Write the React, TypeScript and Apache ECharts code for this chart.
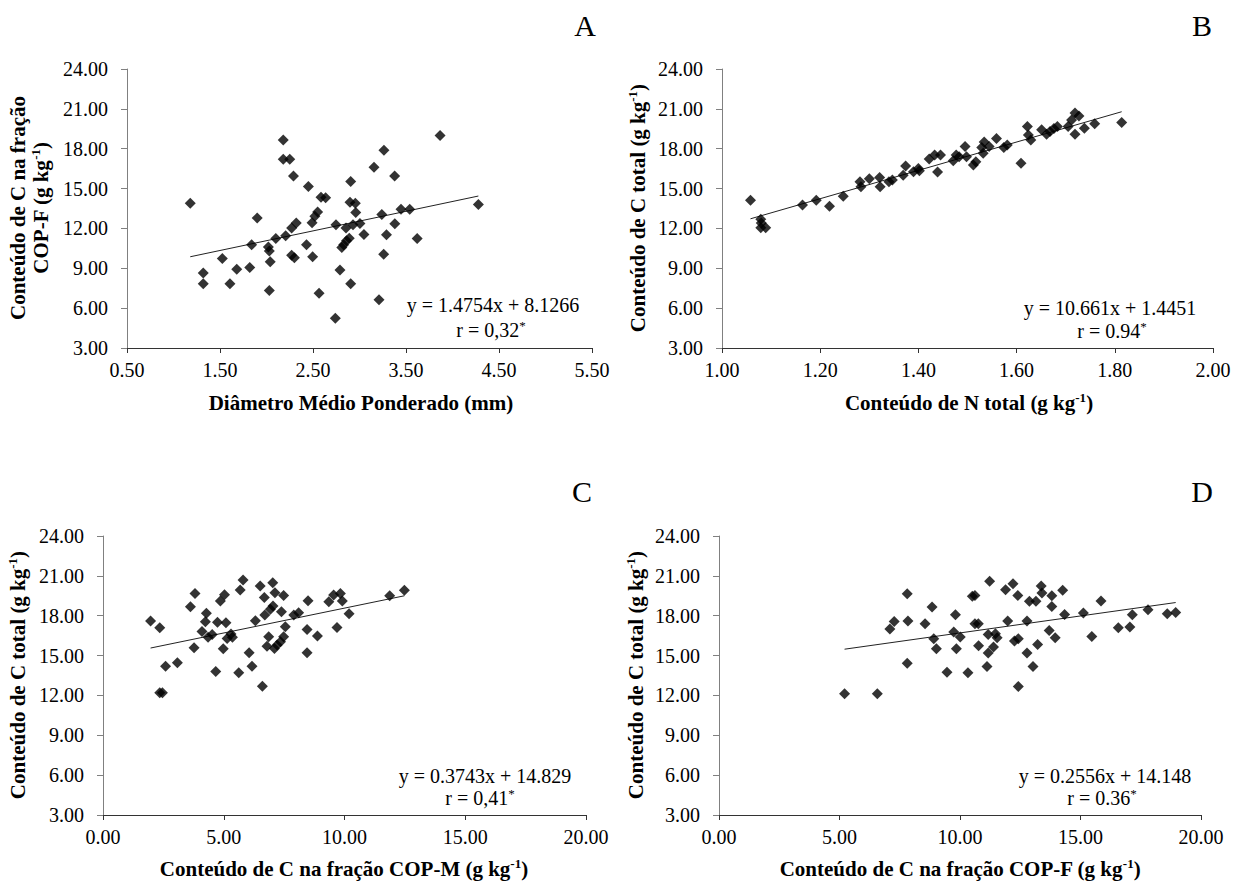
import React, { useEffect, useRef } from 'react';
import * as echarts from 'echarts';

// ---------- Panel A : Diâmetro Médio Ponderado vs C na fração COP-F ----------
const A_X = [1.18, 1.32, 1.32, 1.525, 1.607, 1.68, 1.82, 1.84, 1.9, 2.02, 2.03, 2.04, 2.03, 2.1, 2.18, 2.18, 2.25, 2.206, 2.27, 2.27, 2.3, 2.29, 2.32, 2.45, 2.43, 2.496, 2.49, 2.52, 2.55, 2.565, 2.586, 2.636, 2.747, 2.74, 2.79, 2.81, 2.83, 2.86, 2.89, 2.855, 2.905, 2.898, 2.955, 2.96, 2.93, 3.005, 2.905, 3.048, 3.156, 3.263, 3.24, 3.29, 3.26, 3.21, 3.378, 3.38, 3.446, 3.54, 3.62, 3.866, 4.278];
const A_Y = [13.9, 8.65, 7.84, 9.73, 7.84, 8.92, 9.05, 10.77, 12.79, 10.6, 10.3, 9.5, 7.33, 11.25, 18.65, 17.2, 17.2, 11.45, 12.03, 9.98, 9.8, 15.94, 12.41, 15.16, 10.77, 9.86, 12.43, 12.91, 13.24, 7.13, 14.35, 14.3, 12.28, 5.24, 8.87, 10.57, 10.77, 11.07, 11.27, 12.03, 15.54, 13.97, 13.9, 13.19, 12.28, 12.38, 7.84, 11.55, 16.6, 17.89, 13.04, 11.53, 10.06, 6.63, 15.94, 12.36, 13.44, 13.44, 11.25, 19.0, 13.8];

// ---------- Panel B : N total vs C total ----------
const B_X = [1.058, 1.079, 1.079, 1.089, 1.08, 1.164, 1.192, 1.219, 1.247, 1.281, 1.283, 1.3, 1.321, 1.322, 1.34, 1.347, 1.369, 1.374, 1.39, 1.4, 1.402, 1.422, 1.433, 1.445, 1.439, 1.471, 1.477, 1.483, 1.495, 1.498, 1.512, 1.517, 1.529, 1.534, 1.532, 1.544, 1.559, 1.574, 1.581, 1.609, 1.622, 1.624, 1.629, 1.651, 1.661, 1.668, 1.676, 1.683, 1.705, 1.712, 1.719, 1.727, 1.719, 1.738, 1.759, 1.814];
const B_Y = [14.13, 12.69, 12.06, 12.06, 12.41, 13.77, 14.13, 13.67, 14.43, 15.51, 15.13, 15.74, 15.84, 15.13, 15.51, 15.64, 16.0, 16.7, 16.27, 16.52, 16.34, 17.22, 17.53, 17.53, 16.24, 17.1, 17.53, 17.4, 18.16, 17.4, 16.77, 17.02, 18.1, 18.5, 17.65, 18.16, 18.76, 18.1, 18.28, 16.9, 19.67, 19.04, 18.66, 19.42, 19.09, 19.29, 19.52, 19.67, 19.67, 20.17, 20.68, 20.47, 19.09, 19.54, 19.87, 19.97];

// ---------- Panel C : C na fração COP-M vs C total ----------
const C_X = [1.97, 2.35, 2.59, 2.35, 2.46, 3.08, 3.62, 3.81, 3.77, 4.1, 4.28, 4.24, 4.35, 4.52, 4.67, 4.74, 4.86, 5.03, 4.98, 5.09, 5.14, 5.3, 5.36, 5.62, 5.68, 5.8, 6.05, 6.17, 6.31, 6.51, 6.6, 6.68, 6.7, 6.86, 6.79, 6.93, 7.03, 7.04, 7.12, 7.1, 7.21, 7.35, 7.48, 7.39, 7.48, 7.55, 7.9, 8.1, 8.45, 8.45, 8.49, 8.88, 9.35, 9.55, 9.83, 9.69, 9.91, 10.19, 11.87, 12.48];
const C_Y = [17.6, 17.1, 14.2, 12.2, 12.2, 14.46, 18.68, 19.68, 15.59, 16.82, 18.18, 17.55, 16.37, 16.59, 13.8, 17.5, 19.1, 19.58, 15.51, 17.47, 16.29, 16.62, 16.37, 13.7, 19.93, 20.69, 15.21, 14.2, 17.62, 20.24, 12.7, 19.38, 18.05, 16.42, 15.71, 18.48, 20.49, 18.73, 19.73, 15.54, 15.79, 16.04, 16.42, 18.3, 19.53, 17.17, 18.05, 18.23, 15.21, 16.97, 19.13, 16.47, 19.05, 19.56, 19.68, 17.12, 19.1, 18.15, 19.51, 19.91];

// ---------- Panel D : C na fração COP-F vs C total ----------
const D_X = [5.21, 6.57, 7.09, 7.27, 7.81, 7.84, 7.81, 8.55, 8.84, 8.91, 9.02, 9.46, 9.74, 9.81, 9.85, 10.01, 10.33, 10.51, 10.62, 10.62, 10.76, 10.77, 11.12, 11.17, 11.23, 11.17, 11.39, 11.47, 11.54, 11.89, 11.98, 12.2, 12.26, 12.4, 12.42, 12.42, 12.78, 12.78, 12.88, 13.03, 13.15, 13.22, 13.37, 13.4, 13.7, 13.81, 13.81, 13.95, 14.26, 14.34, 15.12, 15.47, 15.85, 16.57, 17.05, 17.15, 17.8, 18.6, 18.95];
const D_Y = [12.12, 12.12, 17.0, 17.57, 19.66, 17.6, 14.43, 17.4, 18.65, 16.27, 15.51, 13.75, 16.77, 18.08, 15.51, 16.39, 13.7, 19.46, 19.53, 17.4, 17.4, 15.74, 14.18, 15.19, 20.59, 16.59, 15.64, 16.64, 16.34, 19.96, 17.6, 20.41, 16.09, 19.53, 16.27, 12.67, 17.6, 15.19, 19.08, 14.18, 19.08, 15.84, 20.24, 19.71, 16.89, 19.51, 18.7, 16.34, 19.91, 18.1, 18.2, 16.44, 19.1, 17.1, 17.15, 18.08, 18.45, 18.15, 18.25];

// ---------- Tick labels ----------
const A_X_TICKS = [0.5, 1.5, 2.5, 3.5, 4.5, 5.5];
const B_X_TICKS = [1.0, 1.2, 1.4, 1.6, 1.8, 2.0];
const CD_X_TICKS = [0, 5, 10, 15, 20];
const Y_TICKS = [3, 6, 9, 12, 15, 18, 21, 24];

// ---------- Regression fits ----------
const A_FIT = { slope: 1.4754, intercept: 8.1266, eq: 'y = 1.4754x + 8.1266', r: '0,32' };
const B_FIT = { slope: 10.661, intercept: 1.4451, eq: 'y = 10.661x + 1.4451', r: '0.94' };
const C_FIT = { slope: 0.3743, intercept: 14.829, eq: 'y = 0.3743x + 14.829', r: '0,41' };
const D_FIT = { slope: 0.2556, intercept: 14.148, eq: 'y = 0.2556x + 14.148', r: '0.36' };

const FONT = 'Liberation Serif';

const zip = (xs: number[], ys: number[]) => xs.map((x, i) => [x, ys[i]]);
const fitLine = (xs: number[], f: { slope: number; intercept: number }) => {
  const lo = Math.min(...xs);
  const hi = Math.max(...xs);
  return [
    [lo, f.slope * lo + f.intercept],
    [hi, f.slope * hi + f.intercept],
  ];
};

const panels = [
  { id: 'A', xs: A_X, ys: A_Y, fit: A_FIT, ticks: A_X_TICKS, min: 0.5, max: 5.5, grid: { left: 127, top: 69, width: 465, height: 279 } },
  { id: 'B', xs: B_X, ys: B_Y, fit: B_FIT, ticks: B_X_TICKS, min: 1.0, max: 2.0, grid: { left: 722, top: 69, width: 491, height: 279 } },
  { id: 'C', xs: C_X, ys: C_Y, fit: C_FIT, ticks: CD_X_TICKS, min: 0, max: 20, grid: { left: 103, top: 536, width: 483, height: 279 } },
  { id: 'D', xs: D_X, ys: D_Y, fit: D_FIT, ticks: CD_X_TICKS, min: 0, max: 20, grid: { left: 719, top: 536, width: 482, height: 279 } },
];

const boldRich = {
  sup: { fontSize: 13, fontWeight: 'bold', fontFamily: FONT, fill: '#000', verticalAlign: 'top', lineHeight: 12 },
};
const plainRich = {
  sup: { fontSize: 13, fontFamily: FONT, fill: '#000', verticalAlign: 'top', lineHeight: 10 },
};

function titleText(text: string, x: number, y: number, rotate: boolean, lineHeight = 24) {
  return {
    type: 'text',
    x,
    y,
    rotation: rotate ? Math.PI / 2 : 0,
    style: {
      text,
      fontFamily: FONT,
      fontSize: 21,
      fontWeight: 'bold',
      fill: '#000',
      align: 'center',
      verticalAlign: 'middle',
      lineHeight,
      rich: boldRich,
    },
  };
}

function plainText(text: string, x: number, y: number, size = 20) {
  return {
    type: 'text',
    x,
    y,
    style: {
      text,
      fontFamily: FONT,
      fontSize: size,
      fill: '#000',
      align: 'center',
      verticalAlign: 'middle',
      lineHeight: 22,
      rich: plainRich,
    },
  };
}

export default function App() {
  const ref = useRef<HTMLDivElement>(null);

  useEffect(() => {
    if (!ref.current) return;
    const chart = echarts.init(ref.current, undefined, { renderer: 'svg' });

    const labelStyle = { fontFamily: FONT, fontSize: 20, color: '#000' };

    const option: any = {
      animation: false,
      backgroundColor: '#fff',
      grid: panels.map((p) => ({ ...p.grid, containLabel: false })),
      xAxis: panels.map((p, i) => ({
        type: 'value',
        gridIndex: i,
        min: p.min,
        max: p.max,
        splitLine: { show: false },
        axisLine: { show: true, onZero: false, lineStyle: { color: '#333', width: 1 } },
        axisTick: { show: true, inside: false, length: 5, customValues: p.ticks, lineStyle: { color: '#333' } },
        axisLabel: { ...labelStyle, margin: 12, customValues: p.ticks, formatter: (v: number) => v.toFixed(2) },
      })),
      yAxis: panels.map((p, i) => ({
        type: 'value',
        gridIndex: i,
        min: 3,
        max: 24,
        interval: 3,
        splitLine: { show: false },
        axisLine: { show: true, onZero: false, lineStyle: { color: '#808080', width: 1 } },
        axisTick: { show: true, inside: false, length: 6, customValues: Y_TICKS, lineStyle: { color: '#808080' } },
        axisLabel: { ...labelStyle, margin: 19, customValues: Y_TICKS, formatter: (v: number) => v.toFixed(2) },
      })),
      series: panels.flatMap((p, i) => [
        {
          type: 'line',
          xAxisIndex: i,
          yAxisIndex: i,
          data: fitLine(p.xs, p.fit),
          showSymbol: false,
          symbol: 'none',
          lineStyle: { color: '#222', width: 1 },
          silent: true,
          z: 1,
        },
        {
          type: 'scatter',
          xAxisIndex: i,
          yAxisIndex: i,
          data: zip(p.xs, p.ys),
          symbol: 'diamond',
          symbolSize: 11,
          itemStyle: { color: '#000' },
          z: 2,
        },
      ]),
      graphic: [
        // panel letters
        plainText('A', 585, 25, 30),
        plainText('B', 1202, 25, 30),
        plainText('C', 582, 491, 30),
        plainText('D', 1202, 491, 30),
        // equations
        plainText(A_FIT.eq, 493, 305),
        plainText('r = ' + A_FIT.r + '{sup|*}', 491, 330),
        plainText(B_FIT.eq, 1110, 308),
        plainText('r = ' + B_FIT.r + '{sup|*}', 1112, 331),
        plainText(C_FIT.eq, 485, 776),
        plainText('r = ' + C_FIT.r + '{sup|*}', 480, 798),
        plainText(D_FIT.eq, 1105, 776),
        plainText('r = ' + D_FIT.r + '{sup|*}', 1102, 798),
        // x-axis titles
        titleText('Diâmetro Médio Ponderado (mm)', 361, 403, false),
        titleText('Conteúdo de N total (g kg{sup|-1})', 969, 403, false),
        titleText('Conteúdo de C na fração COP-M (g kg{sup|-1})', 344, 869, false),
        titleText('Conteúdo de C na fração COP-F (g kg{sup|-1})', 960, 869, false),
        // y-axis titles
        titleText('Conteúdo de C na fração\nCOP-F (g kg{sup|-1})', 29, 208, true, 23),
        titleText('Conteúdo de C total (g kg{sup|-1})', 638, 208, true),
        titleText('Conteúdo de C total (g kg{sup|-1})', 18, 675, true),
        titleText('Conteúdo de C total (g kg{sup|-1})', 636, 675, true),
      ],
    };

    chart.setOption(option);
    return () => chart.dispose();
  }, []);

  return (
    <div
      ref={ref}
      style={{ position: 'fixed', left: 0, top: 0, width: 1244, height: 884, background: '#fff' }}
    />
  );
}
